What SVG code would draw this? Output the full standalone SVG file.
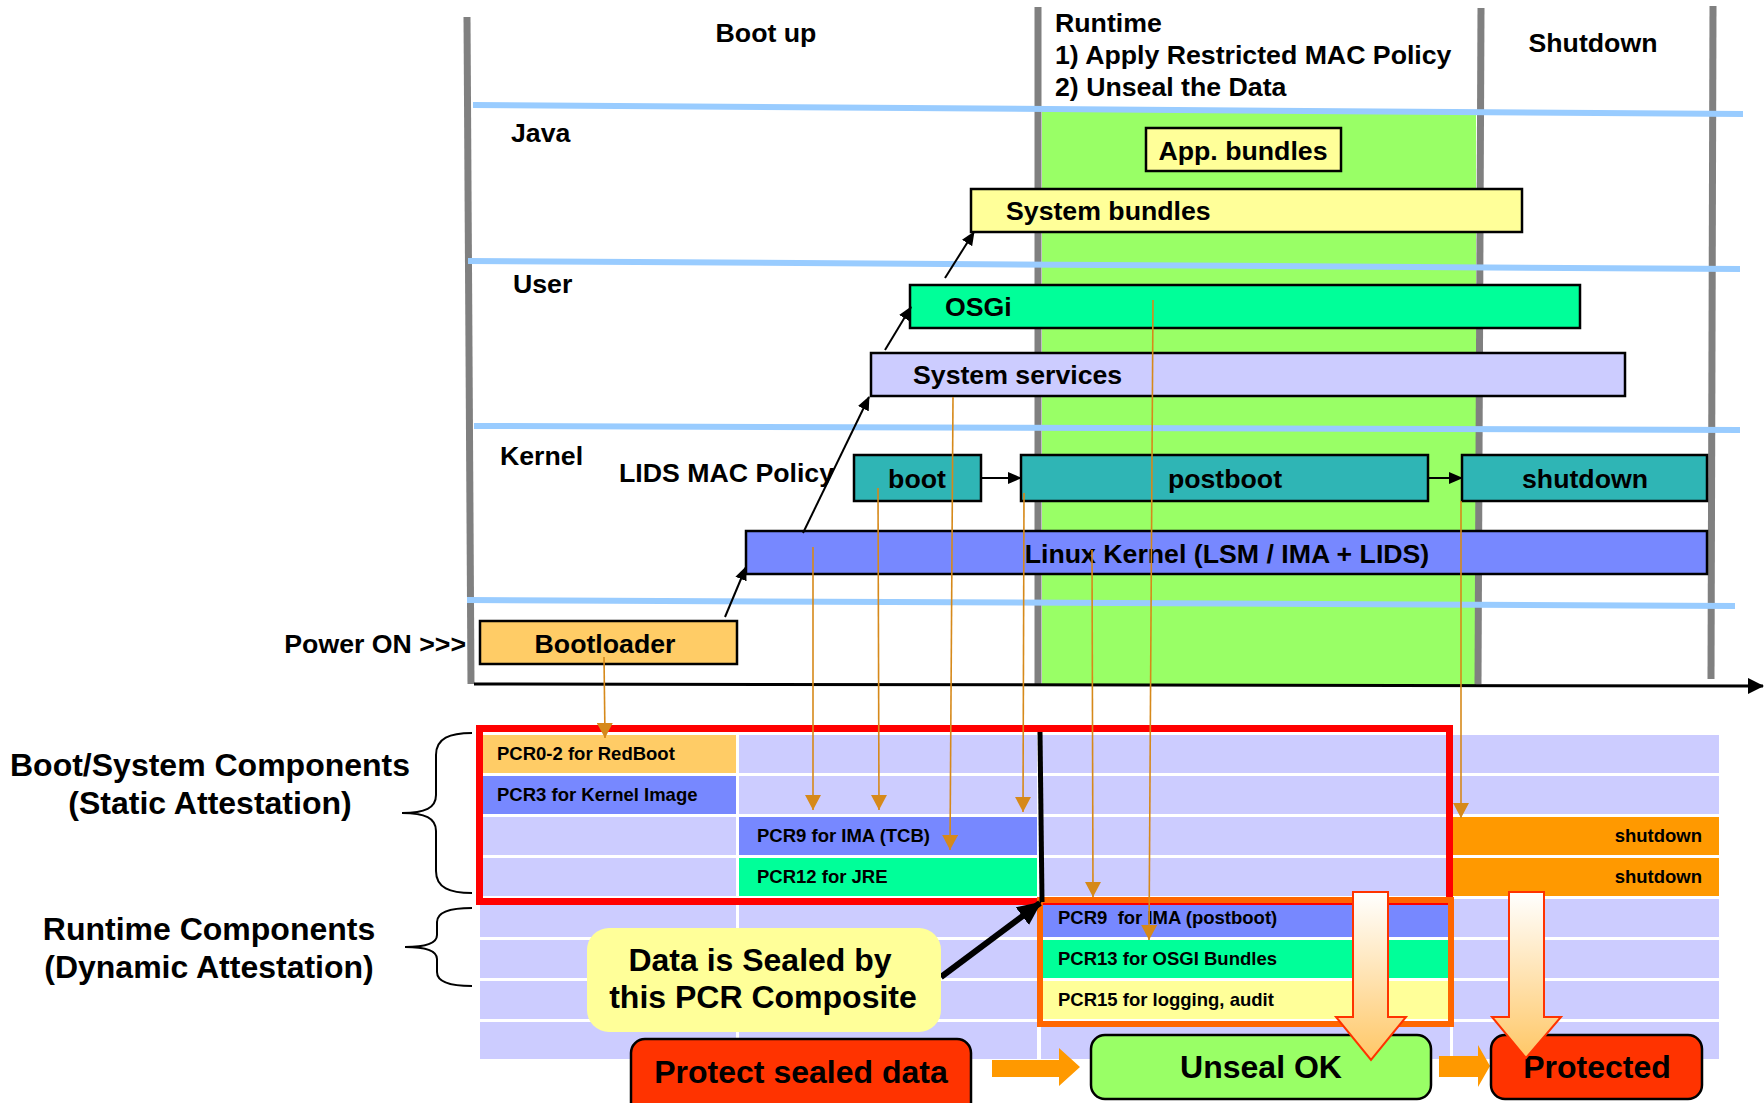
<svg xmlns="http://www.w3.org/2000/svg" width="1764" height="1103" viewBox="0 0 1764 1103">
<defs>
<style>
text{font-family:"Liberation Sans",Arial,sans-serif;font-weight:bold;fill:#000}
.t26{font-size:26.7px}
.t18{font-size:18.5px}
.t31{font-size:32px}
.t32{font-size:32px}
.mid{text-anchor:middle}
.end{text-anchor:end}
.box{stroke:#000;stroke-width:2.5}
.gray{stroke:#808080;stroke-width:7;fill:none}
.blue{stroke:#99CCFF;stroke-width:6;fill:none}
.cell{fill:#CCCCFF}
.orl{stroke:#D6891A;stroke-width:1.6;fill:none;marker-end:url(#oa)}
.blk{stroke:#000;stroke-width:2;fill:none;marker-end:url(#ba)}
.blockarrow{fill:#FF9900}
.bigdown{fill:url(#gd);stroke:#FF3300;stroke-width:2}
</style>
<marker id="oa" markerUnits="userSpaceOnUse" markerWidth="16" markerHeight="16" viewBox="0 0 16 16" refX="15" refY="8" orient="auto"><path d="M0,0 L15,8 L0,16 z" fill="#D6891A"/></marker>
<marker id="ba" markerUnits="userSpaceOnUse" markerWidth="14" markerHeight="12" viewBox="0 0 14 12" refX="13" refY="6" orient="auto"><path d="M0,0 L14,6 L0,12 z" fill="#000"/></marker>
<marker id="bb" markerUnits="userSpaceOnUse" markerWidth="24" markerHeight="22" viewBox="0 0 24 22" refX="22" refY="11" orient="auto"><path d="M0,0 L24,11 L0,22 z" fill="#000"/></marker>
<marker id="ax" markerUnits="userSpaceOnUse" markerWidth="16" markerHeight="16" viewBox="0 0 16 16" refX="15" refY="8" orient="auto"><path d="M0,0 L16,8 L0,16 z" fill="#000"/></marker>
<linearGradient id="gd" x1="0" y1="0" x2="0" y2="1">
<stop offset="0" stop-color="#FFFFFF"/>
<stop offset="1" stop-color="#FFC766"/>
</linearGradient>
</defs>

<!-- background timeline -->
<g id="timeline">
<rect x="1042" y="111" width="434" height="574" fill="#99FF66"/>
<line class="gray" x1="467" y1="17" x2="471" y2="684"/>
<line class="gray" x1="1038" y1="7" x2="1038" y2="685"/>
<line class="gray" x1="1481" y1="8" x2="1478" y2="684"/>
<line class="gray" x1="1713" y1="6" x2="1711" y2="679"/>
<line class="blue" x1="473" y1="105" x2="1743" y2="114"/>
<line class="blue" x1="468" y1="261" x2="1740" y2="269"/>
<line class="blue" x1="474" y1="426" x2="1740" y2="430"/>
<line class="blue" x1="467" y1="600" x2="1735" y2="606"/>
<line x1="474" y1="684" x2="1763" y2="686" stroke="#000" stroke-width="3" marker-end="url(#ax)"/>
</g>

<g id="labels">
<text class="t26 mid" x="766" y="42">Boot up</text>
<text class="t26" x="1055" y="32">Runtime</text>
<text class="t26" x="1055" y="64">1) Apply Restricted MAC Policy</text>
<text class="t26" x="1055" y="96">2) Unseal the Data</text>
<text class="t26 mid" x="1593" y="52">Shutdown</text>
<text class="t26" x="511" y="142">Java</text>
<text class="t26" x="513" y="293">User</text>
<text class="t26" x="500" y="465">Kernel</text>
<text class="t26" x="619" y="482">LIDS MAC Policy</text>
<text class="t26 end" x="466" y="653">Power ON &gt;&gt;&gt;</text>
<text class="t31 mid" x="210" y="776">Boot/System Components</text>
<text class="t31 mid" x="210" y="814">(Static Attestation)</text>
<text class="t31 mid" x="209" y="940">Runtime Components</text>
<text class="t31 mid" x="209" y="978">(Dynamic Attestation)</text>
<path d="M472,733 C450,733 436,738 436,755 L436,795 C436,808 425,813 402,813 C425,813 436,818 436,831 L436,871 C436,888 450,893 472,893" fill="none" stroke="#000" stroke-width="2"/>
<path d="M472,908 C450,908 437,912 437,922 L437,935 C437,943 427,947 405,947 C427,947 437,951 437,959 L437,972 C437,982 450,986 472,986" fill="none" stroke="#000" stroke-width="2"/>
</g>

<!-- PCR table -->
<g id="pcr-grid">
<rect class="cell" x="480" y="735" width="256" height="38"/>
<rect class="cell" x="739" y="735" width="298" height="38"/>
<rect class="cell" x="1041" y="735" width="409" height="38"/>
<rect class="cell" x="1453" y="735" width="266" height="38"/>
<rect class="cell" x="480" y="776" width="256" height="38"/>
<rect class="cell" x="739" y="776" width="298" height="38"/>
<rect class="cell" x="1041" y="776" width="409" height="38"/>
<rect class="cell" x="1453" y="776" width="266" height="38"/>
<rect class="cell" x="480" y="817" width="256" height="38"/>
<rect class="cell" x="739" y="817" width="298" height="38"/>
<rect class="cell" x="1041" y="817" width="409" height="38"/>
<rect class="cell" x="1453" y="817" width="266" height="38"/>
<rect class="cell" x="480" y="858" width="256" height="38"/>
<rect class="cell" x="739" y="858" width="298" height="38"/>
<rect class="cell" x="1041" y="858" width="409" height="38"/>
<rect class="cell" x="1453" y="858" width="266" height="38"/>
<rect class="cell" x="480" y="899" width="256" height="38"/>
<rect class="cell" x="739" y="899" width="298" height="38"/>
<rect class="cell" x="1041" y="899" width="409" height="38"/>
<rect class="cell" x="1453" y="899" width="266" height="38"/>
<rect class="cell" x="480" y="940" width="256" height="38"/>
<rect class="cell" x="739" y="940" width="298" height="38"/>
<rect class="cell" x="1041" y="940" width="409" height="38"/>
<rect class="cell" x="1453" y="940" width="266" height="38"/>
<rect class="cell" x="480" y="981" width="256" height="38"/>
<rect class="cell" x="739" y="981" width="298" height="38"/>
<rect class="cell" x="1041" y="981" width="409" height="38"/>
<rect class="cell" x="1453" y="981" width="266" height="38"/>
<rect class="cell" x="480" y="1022" width="256" height="37"/>
<rect class="cell" x="739" y="1022" width="298" height="37"/>
<rect class="cell" x="1041" y="1022" width="409" height="37"/>
<rect class="cell" x="1453" y="1022" width="266" height="37"/>
</g>
<g id="pcr0-2"><rect x="480" y="735" width="256" height="38" fill="#FFCC66"/><text class="t18" x="497" y="760">PCR0-2 for RedBoot</text></g>
<g id="pcr3"><rect x="480" y="776" width="256" height="38" fill="#7788FF"/><text class="t18" x="497" y="801">PCR3 for Kernel Image</text></g>
<g id="pcr9-tcb"><rect x="739" y="817" width="298" height="38" fill="#7788FF"/><text class="t18" x="757" y="842">PCR9 for IMA (TCB)</text></g>
<g id="pcr12"><rect x="739" y="858" width="298" height="38" fill="#00FF99"/><text class="t18" x="757" y="883">PCR12 for JRE</text></g>
<g id="pcr9-postboot"><rect x="1041" y="899" width="409" height="38" fill="#7788FF"/><text class="t18" x="1058" y="924" xml:space="preserve">PCR9  for IMA (postboot)</text></g>
<g id="pcr13"><rect x="1041" y="940" width="409" height="38" fill="#00FF99"/><text class="t18" x="1058" y="965">PCR13 for OSGI Bundles</text></g>
<g id="pcr15"><rect x="1041" y="981" width="409" height="38" fill="#FFFF99"/><text class="t18" x="1058" y="1006">PCR15 for logging, audit</text></g>
<g id="shutdown-pcr1"><rect x="1453" y="817" width="266" height="38" fill="#FF9900"/><text class="t18 end" x="1702" y="842">shutdown</text></g>
<g id="shutdown-pcr2"><rect x="1453" y="858" width="266" height="38" fill="#FF9900"/><text class="t18 end" x="1702" y="883">shutdown</text></g>

<g id="static-frame"><rect x="479.5" y="728.5" width="970" height="173" fill="none" stroke="#FF0000" stroke-width="7"/></g>
<g id="dynamic-frame"><rect x="1040" y="900" width="411" height="124" fill="none" stroke="#FF6600" stroke-width="6"/></g>
<g id="composite-line"><line x1="1040" y1="732" x2="1042" y2="902" stroke="#000" stroke-width="5"/></g>

<!-- upper nodes -->
<g id="app-bundles"><rect class="box" x="1146" y="128" width="195" height="43" fill="#FFFF99"/><text class="t26 mid" x="1243" y="160">App. bundles</text></g>
<g id="system-bundles"><rect class="box" x="971" y="189" width="551" height="43" fill="#FFFF99"/><text class="t26" x="1006" y="220">System bundles</text></g>
<g id="osgi"><rect class="box" x="910" y="285" width="670" height="43" fill="#00FF99"/><text class="t26" x="945" y="316">OSGi</text></g>
<g id="system-services"><rect class="box" x="871" y="353" width="754" height="43" fill="#CCCCFF"/><text class="t26" x="913" y="384">System services</text></g>
<g id="boot"><rect class="box" x="854" y="455" width="127" height="46" fill="#2FB5B5"/><text class="t26 mid" x="917" y="488">boot</text></g>
<g id="postboot"><rect class="box" x="1021" y="455" width="407" height="46" fill="#2FB5B5"/><text class="t26 mid" x="1225" y="488">postboot</text></g>
<g id="shutdown"><rect class="box" x="1462" y="455" width="245" height="46" fill="#2FB5B5"/><text class="t26 mid" x="1585" y="488">shutdown</text></g>
<g id="linux-kernel"><rect class="box" x="746" y="531" width="961" height="43" fill="#7788FF"/><text class="t26 mid" x="1227" y="563">Linux Kernel (LSM / IMA + LIDS)</text></g>
<g id="bootloader"><rect class="box" x="480" y="621" width="257" height="43" fill="#FFCC66"/><text class="t26 mid" x="605" y="653">Bootloader</text></g>

<!-- connectors -->
<g id="connectors">
<line class="blk" x1="725" y1="617" x2="746" y2="567"/>
<line class="blk" x1="803" y1="533" x2="869" y2="397"/>
<line class="blk" x1="885" y1="350" x2="911" y2="307"/>
<line class="blk" x1="945" y1="278" x2="974" y2="232"/>
<line class="blk" x1="981" y1="478" x2="1021" y2="478"/>
<line class="blk" x1="1428" y1="478" x2="1462" y2="478"/>
<line class="orl" x1="604" y1="657" x2="605" y2="738"/>
<line class="orl" x1="813" y1="547" x2="813" y2="810"/>
<line class="orl" x1="878" y1="488" x2="879" y2="810"/>
<line class="orl" x1="953" y1="397" x2="950" y2="850"/>
<line class="orl" x1="1024" y1="493" x2="1023" y2="812"/>
<line class="orl" x1="1092" y1="550" x2="1093" y2="897"/>
<line class="orl" x1="1153" y1="300" x2="1149" y2="940"/>
<line class="orl" x1="1461" y1="501" x2="1461" y2="818"/>
<line x1="941" y1="977" x2="1040" y2="903" stroke="#000" stroke-width="6" marker-end="url(#bb)"/>
<polygon class="blockarrow" points="992,1060 1059,1060 1059,1048 1080,1067 1059,1086 1059,1077 992,1077"/>
<polygon class="blockarrow" points="1439,1056 1478,1056 1478,1045 1490,1066 1478,1087 1478,1077 1439,1077"/>
</g>

<!-- callout and result nodes -->
<g id="sealed-callout"><rect x="587" y="928" width="354" height="104" rx="22" fill="#FFFF99"/><text class="t32 mid" x="760" y="971">Data is Sealed by</text><text class="t32 mid" x="763" y="1008">this PCR Composite</text></g>
<g id="protect-sealed-data"><rect class="box" x="631" y="1039" width="340" height="80" rx="14" fill="#FF3300"/><text class="t32 mid" x="801" y="1083">Protect sealed data</text></g>
<g id="unseal-ok"><rect class="box" x="1091" y="1035" width="340" height="64" rx="14" fill="#99FF66"/><text class="t32 mid" x="1261" y="1078">Unseal OK</text></g>
<g id="protected"><rect class="box" x="1491" y="1035" width="211" height="64" rx="14" fill="#FF3300"/><text class="t32 mid" x="1597" y="1078">Protected</text></g>

<g id="result-arrows">
<polygon class="bigdown" points="1353,892 1388,892 1388,1017 1406,1017 1371,1060 1336,1017 1353,1017"/>
<polygon class="bigdown" points="1509,892 1544,892 1544,1017 1561,1017 1526,1058 1492,1017 1509,1017"/>
</g>
</svg>
